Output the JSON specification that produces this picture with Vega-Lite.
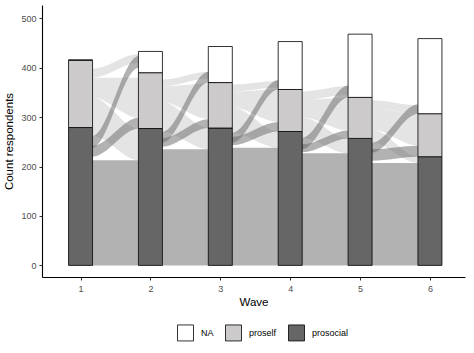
{
  "$schema": "https://vega.github.io/schema/vega-lite/v6.json",
  "width": 423,
  "height": 272,
  "autosize": {"type": "none"},
  "padding": {"left": 42, "top": 5, "right": 9, "bottom": 76},
  "background": "white",
  "config": {
    "font": "Liberation Sans",
    "view": {"stroke": null},
    "axis": {
      "grid": false,
      "domainColor": "black",
      "domainWidth": 1.1,
      "tickColor": "#333333",
      "tickSize": 3,
      "tickWidth": 1,
      "labelColor": "#4d4d4d",
      "labelFontSize": 9,
      "labelFont": "Liberation Sans",
      "titleFont": "Liberation Sans",
      "titleFontSize": 11.5,
      "titleFontWeight": "normal",
      "titleColor": "black"
    }
  },
  "datasets": {
    "strata": [
      {"wave": 1, "resp": "prosocial", "n": 279}, {"wave": 1, "resp": "proself", "n": 136}, {"wave": 1, "resp": "NA", "n": 1},
      {"wave": 2, "resp": "prosocial", "n": 277}, {"wave": 2, "resp": "proself", "n": 113}, {"wave": 2, "resp": "NA", "n": 43},
      {"wave": 3, "resp": "prosocial", "n": 278}, {"wave": 3, "resp": "proself", "n": 92}, {"wave": 3, "resp": "NA", "n": 73},
      {"wave": 4, "resp": "prosocial", "n": 271}, {"wave": 4, "resp": "proself", "n": 85}, {"wave": 4, "resp": "NA", "n": 97},
      {"wave": 5, "resp": "prosocial", "n": 257}, {"wave": 5, "resp": "proself", "n": 83}, {"wave": 5, "resp": "NA", "n": 128},
      {"wave": 6, "resp": "prosocial", "n": 220}, {"wave": 6, "resp": "proself", "n": 87}, {"wave": 6, "resp": "NA", "n": 152}
    ],
    "flows": [
      {"f": "1pp", "k": "d", "x": 1.167, "lo": 0, "hi": 213}, {"f": "1pp", "k": "d", "x": 1.169, "lo": 0, "hi": 213}, {"f": "1pp", "k": "d", "x": 1.831, "lo": 0, "hi": 213}, {"f": "1pp", "k": "d", "x": 1.833, "lo": 0, "hi": 213},
      {"f": "1g", "k": "d", "x": 1.167, "lo": 220, "hi": 242}, {"f": "1g", "k": "d", "x": 1.169, "lo": 220, "hi": 242}, {"f": "1g", "k": "d", "x": 1.831, "lo": 277, "hi": 299}, {"f": "1g", "k": "d", "x": 1.833, "lo": 277, "hi": 299},
      {"f": "1s", "k": "d", "x": 1.167, "lo": 238, "hi": 262}, {"f": "1s", "k": "d", "x": 1.169, "lo": 238, "hi": 262}, {"f": "1s", "k": "d", "x": 1.831, "lo": 400, "hi": 424}, {"f": "1s", "k": "d", "x": 1.833, "lo": 400, "hi": 424},
      {"f": "1A", "k": "l", "x": 1.167, "lo": 262, "hi": 340}, {"f": "1A", "k": "l", "x": 1.169, "lo": 262, "hi": 340}, {"f": "1A", "k": "l", "x": 1.831, "lo": 213, "hi": 277}, {"f": "1A", "k": "l", "x": 1.833, "lo": 213, "hi": 277},
      {"f": "1B", "k": "l", "x": 1.167, "lo": 340, "hi": 380}, {"f": "1B", "k": "l", "x": 1.169, "lo": 340, "hi": 380}, {"f": "1B", "k": "l", "x": 1.831, "lo": 299, "hi": 380}, {"f": "1B", "k": "l", "x": 1.833, "lo": 299, "hi": 380},
      {"f": "1C", "k": "l", "x": 1.167, "lo": 380, "hi": 398}, {"f": "1C", "k": "l", "x": 1.169, "lo": 380, "hi": 398}, {"f": "1C", "k": "l", "x": 1.831, "lo": 410, "hi": 428}, {"f": "1C", "k": "l", "x": 1.833, "lo": 410, "hi": 428},

      {"f": "2pp", "k": "d", "x": 2.167, "lo": 0, "hi": 235}, {"f": "2pp", "k": "d", "x": 2.169, "lo": 0, "hi": 235}, {"f": "2pp", "k": "d", "x": 2.831, "lo": 0, "hi": 235}, {"f": "2pp", "k": "d", "x": 2.833, "lo": 0, "hi": 235},
      {"f": "2g", "k": "d", "x": 2.167, "lo": 240, "hi": 258}, {"f": "2g", "k": "d", "x": 2.169, "lo": 240, "hi": 258}, {"f": "2g", "k": "d", "x": 2.831, "lo": 278, "hi": 296}, {"f": "2g", "k": "d", "x": 2.833, "lo": 278, "hi": 296},
      {"f": "2s", "k": "d", "x": 2.167, "lo": 248, "hi": 270}, {"f": "2s", "k": "d", "x": 2.169, "lo": 248, "hi": 270}, {"f": "2s", "k": "d", "x": 2.831, "lo": 370, "hi": 392}, {"f": "2s", "k": "d", "x": 2.833, "lo": 370, "hi": 392},
      {"f": "2A", "k": "l", "x": 2.167, "lo": 270, "hi": 330}, {"f": "2A", "k": "l", "x": 2.169, "lo": 270, "hi": 330}, {"f": "2A", "k": "l", "x": 2.831, "lo": 235, "hi": 278}, {"f": "2A", "k": "l", "x": 2.833, "lo": 235, "hi": 278},
      {"f": "2B", "k": "l", "x": 2.167, "lo": 330, "hi": 362}, {"f": "2B", "k": "l", "x": 2.169, "lo": 330, "hi": 362}, {"f": "2B", "k": "l", "x": 2.831, "lo": 296, "hi": 368}, {"f": "2B", "k": "l", "x": 2.833, "lo": 296, "hi": 368},
      {"f": "2C", "k": "l", "x": 2.167, "lo": 362, "hi": 376}, {"f": "2C", "k": "l", "x": 2.169, "lo": 362, "hi": 376}, {"f": "2C", "k": "l", "x": 2.831, "lo": 378, "hi": 392}, {"f": "2C", "k": "l", "x": 2.833, "lo": 378, "hi": 392},

      {"f": "3pp", "k": "d", "x": 3.167, "lo": 0, "hi": 238}, {"f": "3pp", "k": "d", "x": 3.169, "lo": 0, "hi": 238}, {"f": "3pp", "k": "d", "x": 3.831, "lo": 0, "hi": 238}, {"f": "3pp", "k": "d", "x": 3.833, "lo": 0, "hi": 238},
      {"f": "3g", "k": "d", "x": 3.167, "lo": 243, "hi": 260}, {"f": "3g", "k": "d", "x": 3.169, "lo": 243, "hi": 260}, {"f": "3g", "k": "d", "x": 3.831, "lo": 271, "hi": 290}, {"f": "3g", "k": "d", "x": 3.833, "lo": 271, "hi": 290},
      {"f": "3s", "k": "d", "x": 3.167, "lo": 248, "hi": 268}, {"f": "3s", "k": "d", "x": 3.169, "lo": 248, "hi": 268}, {"f": "3s", "k": "d", "x": 3.831, "lo": 356, "hi": 375}, {"f": "3s", "k": "d", "x": 3.833, "lo": 356, "hi": 375},
      {"f": "3A", "k": "l", "x": 3.167, "lo": 268, "hi": 320}, {"f": "3A", "k": "l", "x": 3.169, "lo": 268, "hi": 320}, {"f": "3A", "k": "l", "x": 3.831, "lo": 238, "hi": 271}, {"f": "3A", "k": "l", "x": 3.833, "lo": 238, "hi": 271},
      {"f": "3B", "k": "l", "x": 3.167, "lo": 320, "hi": 352}, {"f": "3B", "k": "l", "x": 3.169, "lo": 320, "hi": 352}, {"f": "3B", "k": "l", "x": 3.831, "lo": 290, "hi": 356}, {"f": "3B", "k": "l", "x": 3.833, "lo": 290, "hi": 356},
      {"f": "3C", "k": "l", "x": 3.167, "lo": 352, "hi": 366}, {"f": "3C", "k": "l", "x": 3.169, "lo": 352, "hi": 366}, {"f": "3C", "k": "l", "x": 3.831, "lo": 360, "hi": 373}, {"f": "3C", "k": "l", "x": 3.833, "lo": 360, "hi": 373},

      {"f": "4pp", "k": "d", "x": 4.167, "lo": 0, "hi": 227}, {"f": "4pp", "k": "d", "x": 4.169, "lo": 0, "hi": 227}, {"f": "4pp", "k": "d", "x": 4.831, "lo": 0, "hi": 227}, {"f": "4pp", "k": "d", "x": 4.833, "lo": 0, "hi": 227},
      {"f": "4g", "k": "d", "x": 4.167, "lo": 229, "hi": 245}, {"f": "4g", "k": "d", "x": 4.169, "lo": 229, "hi": 245}, {"f": "4g", "k": "d", "x": 4.831, "lo": 257, "hi": 273}, {"f": "4g", "k": "d", "x": 4.833, "lo": 257, "hi": 273},
      {"f": "4s", "k": "d", "x": 4.167, "lo": 235, "hi": 258}, {"f": "4s", "k": "d", "x": 4.169, "lo": 235, "hi": 258}, {"f": "4s", "k": "d", "x": 4.831, "lo": 340, "hi": 364}, {"f": "4s", "k": "d", "x": 4.833, "lo": 340, "hi": 364},
      {"f": "4A", "k": "l", "x": 4.167, "lo": 258, "hi": 300}, {"f": "4A", "k": "l", "x": 4.169, "lo": 258, "hi": 300}, {"f": "4A", "k": "l", "x": 4.831, "lo": 227, "hi": 257}, {"f": "4A", "k": "l", "x": 4.833, "lo": 227, "hi": 257},
      {"f": "4B", "k": "l", "x": 4.167, "lo": 300, "hi": 335}, {"f": "4B", "k": "l", "x": 4.169, "lo": 300, "hi": 335}, {"f": "4B", "k": "l", "x": 4.831, "lo": 273, "hi": 340}, {"f": "4B", "k": "l", "x": 4.833, "lo": 273, "hi": 340},
      {"f": "4C", "k": "l", "x": 4.167, "lo": 335, "hi": 352}, {"f": "4C", "k": "l", "x": 4.169, "lo": 335, "hi": 352}, {"f": "4C", "k": "l", "x": 4.831, "lo": 345, "hi": 363}, {"f": "4C", "k": "l", "x": 4.833, "lo": 345, "hi": 363},

      {"f": "5pp", "k": "d", "x": 5.167, "lo": 0, "hi": 207}, {"f": "5pp", "k": "d", "x": 5.169, "lo": 0, "hi": 207}, {"f": "5pp", "k": "d", "x": 5.831, "lo": 0, "hi": 207}, {"f": "5pp", "k": "d", "x": 5.833, "lo": 0, "hi": 207},
      {"f": "5g", "k": "d", "x": 5.167, "lo": 212, "hi": 235}, {"f": "5g", "k": "d", "x": 5.169, "lo": 212, "hi": 235}, {"f": "5g", "k": "d", "x": 5.831, "lo": 220, "hi": 242}, {"f": "5g", "k": "d", "x": 5.833, "lo": 220, "hi": 242},
      {"f": "5s", "k": "d", "x": 5.167, "lo": 228, "hi": 248}, {"f": "5s", "k": "d", "x": 5.169, "lo": 228, "hi": 248}, {"f": "5s", "k": "d", "x": 5.831, "lo": 307, "hi": 326}, {"f": "5s", "k": "d", "x": 5.833, "lo": 307, "hi": 326},
      {"f": "5A", "k": "l", "x": 5.167, "lo": 248, "hi": 275}, {"f": "5A", "k": "l", "x": 5.169, "lo": 248, "hi": 275}, {"f": "5A", "k": "l", "x": 5.831, "lo": 207, "hi": 220}, {"f": "5A", "k": "l", "x": 5.833, "lo": 207, "hi": 220},
      {"f": "5B", "k": "l", "x": 5.167, "lo": 275, "hi": 318}, {"f": "5B", "k": "l", "x": 5.169, "lo": 275, "hi": 318}, {"f": "5B", "k": "l", "x": 5.831, "lo": 242, "hi": 307}, {"f": "5B", "k": "l", "x": 5.833, "lo": 242, "hi": 307},
      {"f": "5C", "k": "l", "x": 5.167, "lo": 318, "hi": 334}, {"f": "5C", "k": "l", "x": 5.169, "lo": 318, "hi": 334}, {"f": "5C", "k": "l", "x": 5.831, "lo": 308, "hi": 324}, {"f": "5C", "k": "l", "x": 5.833, "lo": 308, "hi": 324}
    ]
  },
  "layer": [
    {
      "data": {"name": "flows"},
      "transform": [{"filter": "datum.k === 'l'"}],
      "mark": {"type": "area", "interpolate": "monotone", "color": "#cccaca", "opacity": 0.5},
      "encoding": {
        "x": {"field": "x", "type": "quantitative", "scale": {"domain": [0.52, 6.43], "nice": false, "zero": false}, "axis": {"values": [1, 2, 3, 4, 5, 6], "format": "d", "title": "Wave", "titlePadding": 3, "labelPadding": 4}},
        "y": {"field": "hi", "type": "quantitative", "scale": {"domain": [-23.5, 527], "nice": false, "zero": false}, "axis": {"values": [0, 100, 200, 300, 400, 500], "title": "Count respondents", "titlePadding": 6, "labelPadding": 3}},
        "y2": {"field": "lo"},
        "detail": {"field": "f"}
      }
    },
    {
      "data": {"name": "flows"},
      "transform": [{"filter": "datum.k === 'd'"}],
      "mark": {"type": "area", "interpolate": "monotone", "color": "#666666", "opacity": 0.5},
      "encoding": {
        "x": {"field": "x", "type": "quantitative", "title": "Wave"},
        "y": {"field": "hi", "type": "quantitative", "title": "Count respondents"},
        "y2": {"field": "lo"},
        "detail": {"field": "f"}
      }
    },
    {
      "data": {"name": "strata"},
      "mark": {"type": "bar", "size": 24, "stroke": "black", "strokeWidth": 0.8},
      "encoding": {
        "x": {"field": "wave", "type": "quantitative", "title": "Wave"},
        "y": {"field": "n", "type": "quantitative", "stack": "zero", "title": "Count respondents"},
        "order": {"field": "resp", "sort": "descending"},
        "color": {
          "field": "resp", "type": "nominal",
          "scale": {"domain": ["NA", "proself", "prosocial"], "range": ["#ffffff", "#cccaca", "#666666"]},
          "legend": {
            "title": null, "orient": "none", "direction": "horizontal",
            "legendX": 135, "legendY": 319,
            "symbolType": "square", "symbolSize": 256, "symbolStrokeColor": "black", "symbolStrokeWidth": 0.8,
            "symbolOpacity": 1, "labelFontSize": 9, "labelColor": "black", "labelOffset": 7, "columnPadding": 9,
            "labelFont": "Liberation Sans"
          }
        }
      }
    }
  ]
}
